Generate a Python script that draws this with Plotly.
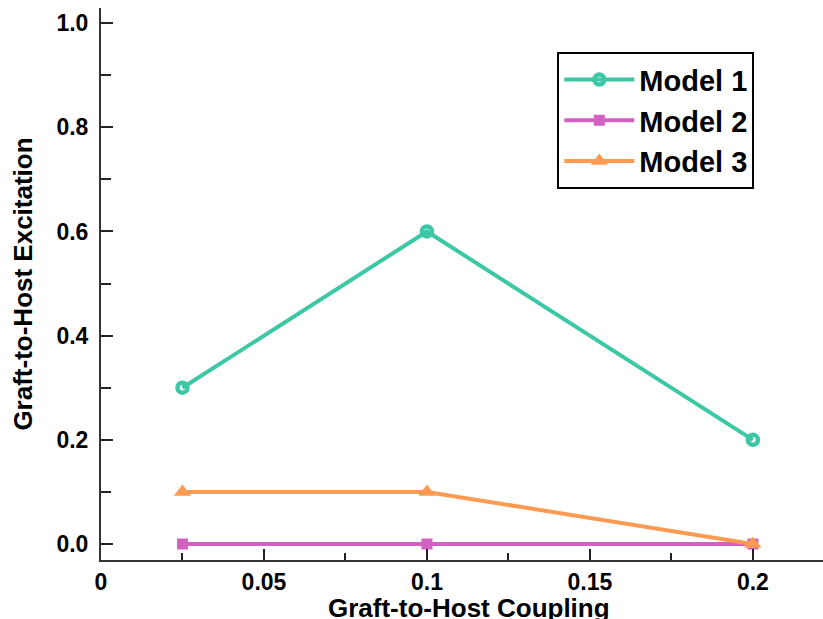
import plotly.graph_objects as go

# Coupling strengths and excitation values per model
coupling = [0.025, 0.1, 0.2]
model1 = [0.3, 0.6, 0.2]
model2 = [0.0, 0.0, 0.0]
model3 = [0.1, 0.1, 0.0]

names = ["Model 1", "Model 2", "Model 3"]
colors = ["#3cc7a5", "#d161c2", "#ff9a52"]
symbols = ["circle-open", "square", "triangle-up"]
sizes = [10, 11, 15]
series = [model1, model2, model3]

fig = go.Figure()
for name, ys, col, sym, sz in zip(names, series, colors, symbols, sizes):
    fig.add_trace(go.Scatter(
        x=coupling, y=ys, name=name, mode="lines+markers",
        line=dict(color=col, width=4),
        marker=dict(symbol=sym, size=sz, color=col,
                    line=dict(color=col, width=4.5 if sym == "circle-open" else 0)),
    ))

font_family = "Liberation Sans, Arial, sans-serif"
fig.update_layout(
    width=823, height=619,
    margin=dict(l=101, r=0, t=8, b=59, autoexpand=False),
    paper_bgcolor="white", plot_bgcolor="white",
    font=dict(family=font_family, color="black"),
    showlegend=True,
    legend=dict(
        x=0.632, y=0.92, xanchor="left", yanchor="top",
        bgcolor="white", bordercolor="black", borderwidth=2,
        font=dict(size=29, family=font_family, weight="bold"),
        itemwidth=70, tracegroupgap=0,
    ),
    xaxis=dict(
        range=[0, 0.2215], showgrid=False, zeroline=False, automargin=False,
        showline=True, linecolor="#333", linewidth=2,
        tickmode="array", tickvals=[0, 0.05, 0.1, 0.15, 0.2],
        ticktext=["0", "0.05", "0.1", "0.15", "0.2"],
        ticks="inside", ticklen=11, tickwidth=2, tickcolor="#222",
        minor=dict(tickvals=[0.025, 0.075, 0.125, 0.175], ticks="inside",
                   ticklen=7, tickwidth=2, tickcolor="#222"),
        tickfont=dict(size=23, family=font_family, weight="bold"),
    ),
    yaxis=dict(
        range=[-0.0307, 1.029], showgrid=False, zeroline=False, automargin=False,
        showline=True, linecolor="#333", linewidth=2,
        tickmode="array", tickvals=[0, 0.2, 0.4, 0.6, 0.8, 1.0],
        ticktext=["0.0", "0.2", "0.4", "0.6", "0.8", "1.0"],
        ticks="inside", ticklen=12, tickwidth=2, tickcolor="#222",
        minor=dict(tickvals=[0.1, 0.3, 0.5, 0.7, 0.9], ticks="inside",
                   ticklen=10, tickwidth=2, tickcolor="#222"),
        tickfont=dict(size=23, family=font_family, weight="bold"),
        ticklabelstandoff=6,
        title=dict(text="Graft-to-Host Excitation", standoff=16,
                   font=dict(size=26, family=font_family, weight="bold")),
    ),
)

# x-axis title sits low, partly running off the bottom edge
fig.add_annotation(
    text="Graft-to-Host Coupling", xref="paper", yref="paper",
    x=0.51, y=-0.087, xanchor="center", yanchor="middle", showarrow=False,
    font=dict(size=26, family=font_family, weight="bold", color="black"),
)

fig.write_html("out.html")
